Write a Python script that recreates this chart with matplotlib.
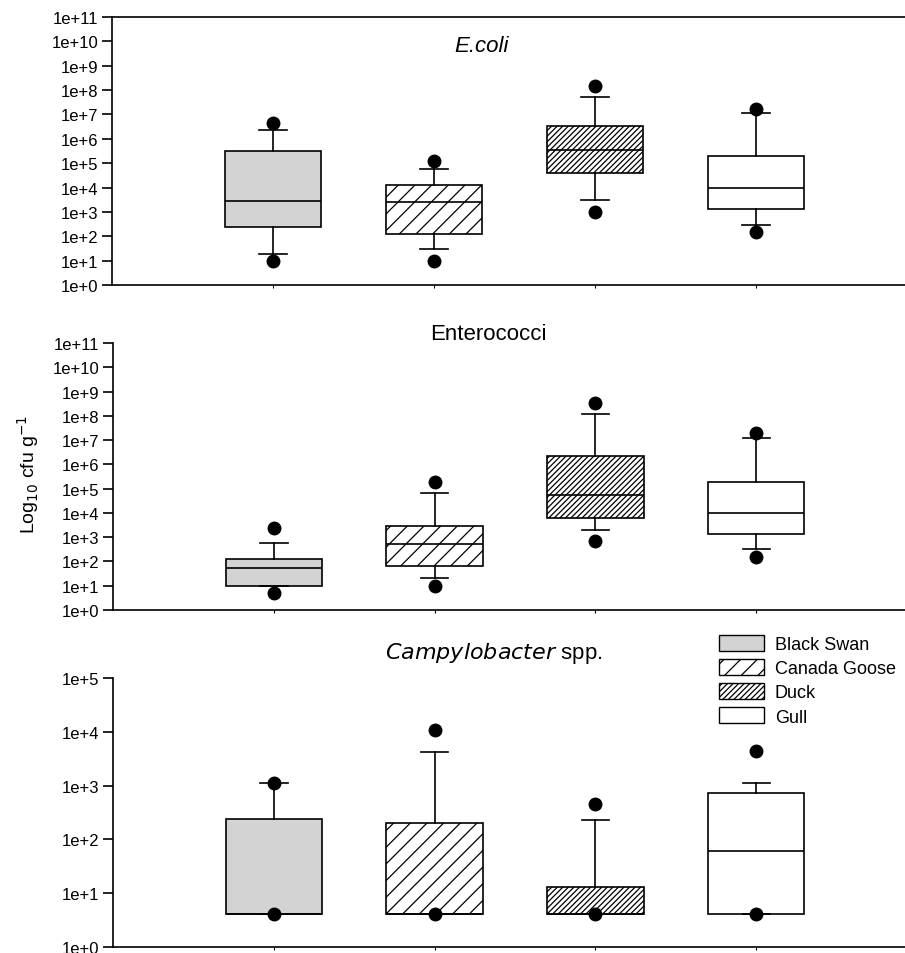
"""Box plots of faecal indicator counts per bird species (three stacked panels)."""
import matplotlib
matplotlib.use("Agg")
import matplotlib.pyplot as plt
from matplotlib.patches import Patch
from matplotlib.ticker import FixedLocator, NullLocator

plt.rcParams["font.family"] = ["Liberation Sans", "DejaVu Sans"]
plt.rcParams["hatch.linewidth"] = 0.9

species = ["Black Swan", "Canada Goose", "Duck", "Gull"]
fills = ["#d3d3d3", "white", "white", "white"]
hatches = ["", "//", "//////", ""]

# E. coli
ecoli_q1 = [2.4e2, 1.3e2, 4.0e4, 1.3e3]
ecoli_med = [2.8e3, 2.6e3, 3.6e5, 9.3e3]
ecoli_q3 = [3.3e5, 1.3e4, 3.5e6, 1.9e5]
ecoli_lo = [19, 31, 3.0e3, 2.9e2]
ecoli_hi = [2.3e6, 5.6e4, 5.0e7, 1.2e7]
ecoli_out = [[10, 4.5e6], [10, 1.2e5], [1.0e3, 1.5e8], [1.45e2, 1.7e7]]

# Enterococci
ent_q1 = [10, 62, 5.9e3, 1.37e3]
ent_med = [51, 5.3e2, 5.5e4, 1.0e4]
ent_q3 = [1.2e2, 2.8e3, 2.2e6, 1.85e5]
ent_lo = [10, 20, 2.0e3, 3.1e2]
ent_hi = [5.6e2, 6.3e4, 1.2e8, 1.25e7]
ent_out = [[4.8, 2.3e3], [10, 1.9e5], [6.6e2, 3.4e8], [1.5e2, 1.9e7]]

# Campylobacter spp.
campy_q1 = [4, 4, 4, 4]
campy_med = [4, 4, 4, 60]
campy_q3 = [2.4e2, 2.0e2, 13, 7.4e2]
campy_lo = [4, 4, 4, 4]
campy_hi = [1.1e3, 4.2e3, 2.3e2, 1.1e3]
campy_out = [[4, 1.1e3], [4, 1.1e4], [4, 4.5e2], [4, 4.4e3]]


def make_stats(q1, med, q3, lo, hi, out):
    return [
        dict(q1=a, med=b, q3=c, whislo=d, whishi=e, fliers=f)
        for a, b, c, d, e, f in zip(q1, med, q3, lo, hi, out)
    ]


def draw_panel(ax, stats, top_exp, top_spine=False):
    parts = ax.bxp(
        stats, positions=[1, 2, 3, 4], widths=0.6, capwidths=0.17,
        patch_artist=True, showfliers=True,
        boxprops=dict(linewidth=1.2, edgecolor="black"),
        medianprops=dict(color="black", linewidth=1.2),
        whiskerprops=dict(color="black", linewidth=1.2),
        capprops=dict(color="black", linewidth=1.2),
        flierprops=dict(marker="o", markerfacecolor="black",
                        markeredgecolor="black", markersize=9),
    )
    for box, fc, h in zip(parts["boxes"], fills, hatches):
        box.set_facecolor(fc)
        box.set_hatch(h)
    ax.set_yscale("log")
    ax.set_ylim(1, 10.0 ** top_exp)
    ax.set_xlim(0, 4.925)
    ticks = [10.0 ** k for k in range(top_exp + 1)]
    ax.yaxis.set_major_locator(FixedLocator(ticks))
    ax.set_yticklabels([f"1e+{k}" for k in range(top_exp + 1)])
    ax.yaxis.set_minor_locator(NullLocator())
    ax.set_xticks([1, 2, 3, 4])
    ax.set_xticklabels([])
    ax.tick_params(axis="y", length=7, width=1.2, labelsize=12, pad=3)
    ax.tick_params(axis="x", length=2, width=0.8)
    for side in ["left", "bottom", "top"]:
        ax.spines[side].set_linewidth(1.2)
    ax.spines["right"].set_visible(False)
    ax.spines["top"].set_visible(top_spine)


fig = plt.figure(figsize=(9.05, 9.54), dpi=100)
ax1 = fig.add_axes([0.1238, 0.7002, 0.8762, 0.2809])
ax2 = fig.add_axes([0.1249, 0.3598, 0.8751, 0.2796])
ax3 = fig.add_axes([0.1249, 0.0066, 0.8751, 0.2813])

draw_panel(ax1, make_stats(ecoli_q1, ecoli_med, ecoli_q3, ecoli_lo, ecoli_hi, ecoli_out), 11, top_spine=True)
draw_panel(ax2, make_stats(ent_q1, ent_med, ent_q3, ent_lo, ent_hi, ent_out), 11)
draw_panel(ax3, make_stats(campy_q1, campy_med, campy_q3, campy_lo, campy_hi, campy_out), 5)

fig.text(482 / 905, 1 - 46 / 954, "E.coli", style="italic", fontsize=16,
         ha="center", va="center")
fig.text(488 / 905, 1 - 335 / 954, "Enterococci", fontsize=16,
         ha="center", va="center")
fig.text(494 / 905, 1 - 653 / 954, r"$\mathit{Campylobacter}$ spp.", fontsize=16,
         ha="center", va="center")
fig.text(28 / 905, 1 - 474 / 954, r"Log$_{10}$ cfu g$^{-1}$", fontsize=14,
         rotation=90, ha="center", va="center")

handles = [Patch(facecolor=fc, edgecolor="black", hatch=h, linewidth=1.0)
           for fc, h in zip(fills, hatches)]
ax3.legend(handles, species, loc="upper left", bbox_to_anchor=(0.756, 1.19),
           frameon=False, fontsize=13, handlelength=2.5, handleheight=1.0,
           handletextpad=0.6, labelspacing=0.33, borderaxespad=0)

fig.savefig("out.png", dpi=100)
plt.close(fig)
